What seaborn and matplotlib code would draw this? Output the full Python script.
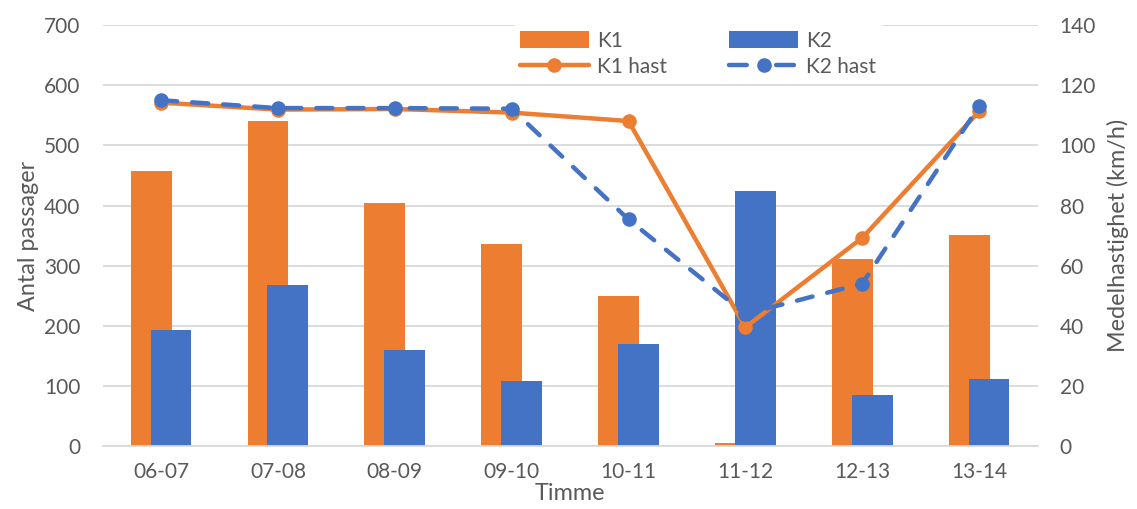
import matplotlib
matplotlib.use("Agg")
import matplotlib.pyplot as plt
from matplotlib.lines import Line2D
from matplotlib.patches import Patch
from matplotlib.ticker import FixedLocator
import seaborn as sns
import pandas as pd

# Passages and mean speed per hour for the two lanes
timmar = ["06-07", "07-08", "08-09", "09-10", "10-11", "11-12", "12-13", "13-14"]
k1 = [457, 540, 405, 336, 250, 5, 312, 351]
k2 = [194, 268, 161, 109, 170, 425, 85, 112]
k1_hast = [114.2, 111.9, 112.1, 110.9, 108.1, 39.6, 69.3, 111.3]
k2_hast = [115.0, 112.4, 112.4, 112.2, 75.4, 44.0, 54.1, 113.0]
serier = ["K1", "K2"]

ORANGE = "#ED7D31"
BLUE = "#4472C4"
GRID = "#D9D9D9"
TEXT = "#595959"

sns.set_theme(style="white")
plt.rcParams["font.family"] = ["Lato", "DejaVu Sans"]
plt.rcParams["text.color"] = TEXT
FS = 15
FS_LABEL = 16.8

bars = pd.DataFrame({
    "Timme": timmar * 2,
    "Antal": k1 + k2,
    "Körfält": [serier[0]] * len(timmar) + [serier[1]] * len(timmar),
})
speed = pd.DataFrame({
    "Timme": timmar * 2,
    "Hast": k1_hast + k2_hast,
    "Serie": ["K1 hast"] * len(timmar) + ["K2 hast"] * len(timmar),
})

fig = plt.figure(figsize=(11.37, 5.09), dpi=100)
ax = fig.add_axes([0.0903, 0.1228, 0.8222, 0.8281])

sns.barplot(data=bars, x="Timme", y="Antal", hue="Körfält", order=timmar,
            hue_order=serier, palette=[ORANGE, BLUE], width=0.34, dodge=True,
            saturation=1, errorbar=None, legend=False, ax=ax)
# widen the dodged bars so the two series overlap around each category
bar_w = 0.35
for p in ax.patches:
    c = p.get_x() + p.get_width() / 2
    p.set_width(bar_w)
    p.set_x(c - bar_w / 2)
    p.set_edgecolor("none")

ax.set_xlim(-0.5, len(timmar) - 0.5)
ax.set_ylim(0, 700)
ax.set_yticks(range(0, 701, 100))
ax.yaxis.grid(True, color=GRID, linewidth=1.3)
ax.set_axisbelow(True)
for s in ["left", "right", "top"]:
    ax.spines[s].set_visible(False)
ax.spines["bottom"].set_color(GRID)
ax.spines["bottom"].set_linewidth(1.3)
ax.xaxis.set_minor_locator(FixedLocator([i - 0.5 for i in range(len(timmar) + 1)]))
ax.tick_params(axis="x", which="major", length=0, pad=11, labelsize=FS, labelcolor=TEXT)
ax.tick_params(axis="x", which="minor", length=6, width=1.3, color=GRID, direction="out")
ax.tick_params(axis="y", length=0, pad=16, labelsize=FS, labelcolor=TEXT)
ax.set_xlabel("Timme", fontsize=FS_LABEL, color=TEXT, labelpad=1)
ax.set_ylabel("Antal passager", fontsize=FS_LABEL, color=TEXT, labelpad=4)

ax2 = ax.twinx()
sns.lineplot(data=speed, x="Timme", y="Hast", hue="Serie", style="Serie",
             hue_order=["K1 hast", "K2 hast"], palette=[ORANGE, BLUE],
             dashes={"K1 hast": "", "K2 hast": (3.6, 3.4)},
             markers={"K1 hast": "o", "K2 hast": "o"}, markersize=10.5,
             markeredgewidth=0, linewidth=3.2, sort=False, legend=False, ax=ax2)
for ln in ax2.lines:
    ln.set_dash_capstyle("round")
    ln.set_solid_capstyle("round")
    ln.set_solid_joinstyle("round")
ax2.set_ylim(0, 140)
ax2.set_yticks(range(0, 141, 20))
ax2.set_xlim(-0.5, len(timmar) - 0.5)
for s in ["left", "right", "top", "bottom"]:
    ax2.spines[s].set_visible(False)
ax2.tick_params(axis="y", length=0, pad=16, labelsize=FS, labelcolor=TEXT)
ax2.set_ylabel("Medelhastighet (km/h)", fontsize=FS_LABEL, color=TEXT, labelpad=8)
ax2.grid(False)

handles = [
    Patch(facecolor=ORANGE, edgecolor="none"),
    Line2D([], [], color=ORANGE, lw=3.2, marker="o", markersize=10.5,
           markeredgewidth=0, solid_capstyle="round"),
    Patch(facecolor=BLUE, edgecolor="none"),
    Line2D([], [], color=BLUE, lw=3.2, marker="o", markersize=10.5,
           markeredgewidth=0, linestyle=(0, (4.0, 6.6)), dash_capstyle="round"),
]
labels = ["K1", "K1 hast", "K2", "K2 hast"]
leg = ax2.legend(handles, labels, ncol=2, loc="center",
                 bbox_to_anchor=(0.637, 0.932), frameon=True, fontsize=FS,
                 handlelength=3.3, handleheight=0.9, columnspacing=3.0,
                 labelspacing=0.3, handletextpad=0.4, borderpad=0.3)
leg.get_frame().set_edgecolor("none")
leg.get_frame().set_facecolor("white")
leg.get_frame().set_alpha(1)
for t in leg.get_texts():
    t.set_color(TEXT)

fig.savefig("out.png", dpi=100)
